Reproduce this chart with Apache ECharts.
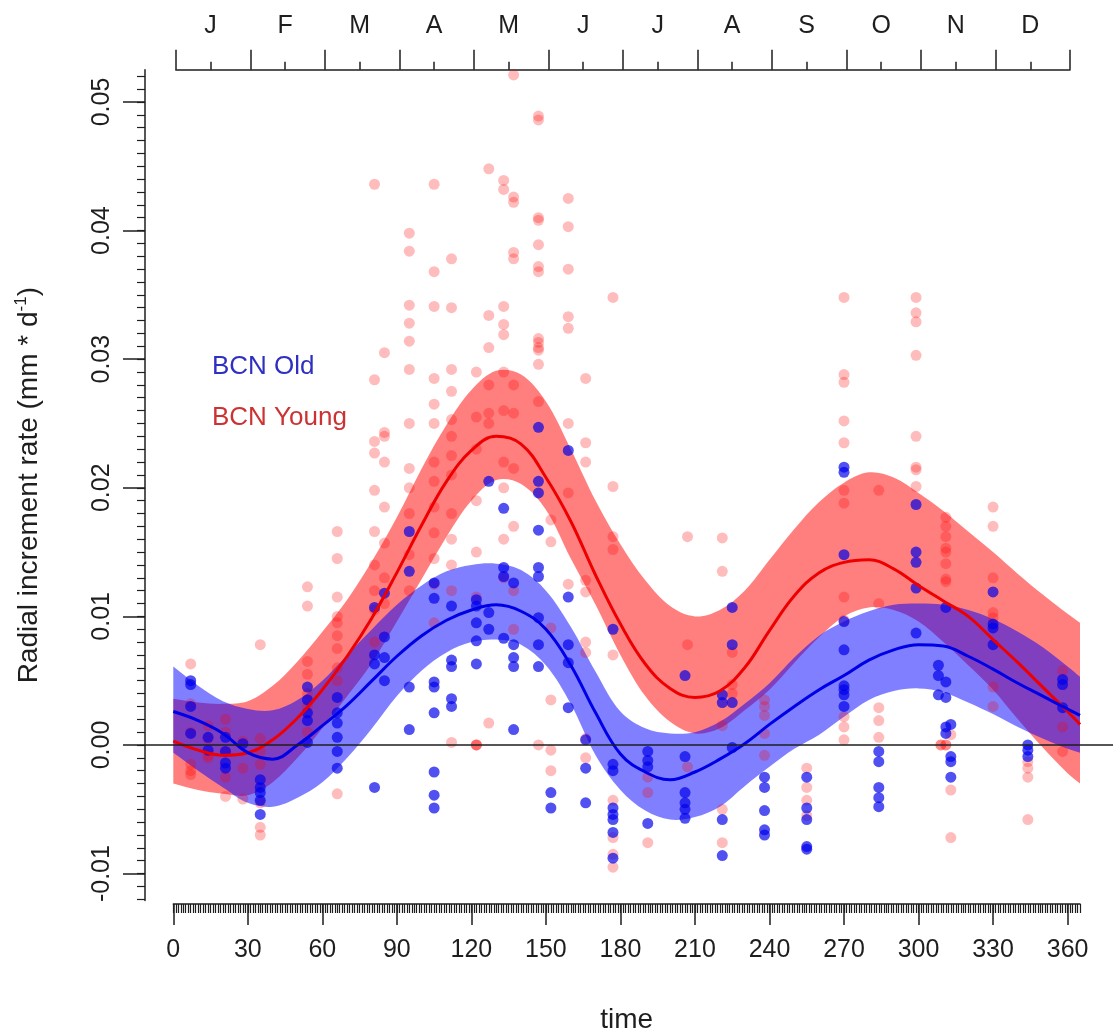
<!DOCTYPE html>
<html>
<head>
<meta charset="utf-8">
<script src="https://cdn.jsdelivr.net/npm/echarts@6/dist/echarts.min.js"></script>
<style>html,body{margin:0;padding:0;background:#fff}#c{width:1113px;height:1034px}</style>
</head>
<body>
<div id="c"></div>
<script>
// ---------- data ----------
const monthLabels = ['J','F','M','A','M','J','J','A','S','O','N','D'];
const monthEdges = [1,31,61,91,121,151,181,211,241,271,301,331,361];
const monthMids = [15,45,75,105,135,165,195,225,255,285,315,345];
const xTicks = [0,30,60,90,120,150,180,210,240,270,300,330,360];
const yTicks = [-0.01,0,0.01,0.02,0.03,0.04,0.05];

const curveDays = [0,10,20,30,40,50,60,70,80,90,100,110,120,130,140,150,160,170,180,190,200,210,220,230,240,250,260,270,280,290,300,310,320,330,340,350,360,365];
const youngFit = [0.0003,-0.0004,-0.0008,-0.0006,0.0004,0.0021,0.0043,0.0069,0.0099,0.0134,0.0171,0.0205,0.0229,0.0240,0.0234,0.0208,0.0174,0.0132,0.0094,0.0063,0.0044,0.0037,0.0042,0.0060,0.0089,0.0116,0.0134,0.0142,0.0144,0.0137,0.0124,0.0112,0.0100,0.0082,0.0064,0.0045,0.0026,0.0016];
const youngUpper = [0.0036,0.0033,0.0032,0.0034,0.0046,0.0065,0.0088,0.0113,0.0143,0.0177,0.0215,0.0249,0.0276,0.0291,0.0288,0.0267,0.0230,0.0190,0.0156,0.0128,0.0108,0.0100,0.0105,0.0120,0.0144,0.0168,0.0189,0.0204,0.0212,0.0208,0.0196,0.0182,0.0166,0.0150,0.0133,0.0117,0.0102,0.0095];
const youngLower = [-0.0030,-0.0035,-0.0038,-0.0039,-0.0029,-0.0010,0.0013,0.0038,0.0064,0.0096,0.0129,0.0162,0.0190,0.0206,0.0203,0.0183,0.0145,0.0109,0.0070,0.0038,0.0018,0.0009,0.0013,0.0027,0.0043,0.0064,0.0084,0.0100,0.0107,0.0105,0.0096,0.0080,0.0062,0.0043,0.0020,-0.0002,-0.0022,-0.0030];
const oldFit = [0.0026,0.0019,0.0009,-0.0006,-0.0011,0.0000,0.0015,0.0031,0.0050,0.0069,0.0085,0.0097,0.0105,0.0109,0.0104,0.0090,0.0062,0.0025,-0.0007,-0.0021,-0.0027,-0.0021,-0.0011,0.0001,0.0016,0.0030,0.0043,0.0054,0.0066,0.0074,0.0078,0.0077,0.0069,0.0059,0.0048,0.0038,0.0028,0.0023];
const oldUpper = [0.0061,0.0046,0.0034,0.0028,0.0027,0.0035,0.0050,0.0070,0.0090,0.0109,0.0124,0.0135,0.0140,0.0141,0.0136,0.0120,0.0092,0.0057,0.0026,0.0013,0.0009,0.0010,0.0018,0.0032,0.0048,0.0068,0.0085,0.0096,0.0104,0.0109,0.0110,0.0109,0.0105,0.0098,0.0088,0.0076,0.0061,0.0053];
const oldLower = [-0.0006,-0.0020,-0.0033,-0.0045,-0.0048,-0.0041,-0.0029,-0.0010,0.0013,0.0038,0.0058,0.0072,0.0080,0.0082,0.0078,0.0062,0.0032,-0.0008,-0.0035,-0.0051,-0.0058,-0.0056,-0.0048,-0.0032,-0.0017,-0.0003,0.0008,0.0022,0.0035,0.0042,0.0044,0.0041,0.0033,0.0024,0.0014,0.0005,-0.0003,-0.0006];

const youngPts = [
 [7,0.0063],[7,0.0032],[7,0.0010],[7,-0.0015],[7,-0.0020],[7,-0.0023],
 [14,0.0015],[14,0.0005],[14,-0.0008],[14,-0.0010],
 [21,0.0020],[21,0.0010],[21,-0.0005],[21,-0.0025],[21,-0.0040],
 [28,0.0003],[28,-0.0018],[28,-0.0042],
 [35,0.0078],[35,0.0005],[35,-0.0005],[35,-0.0015],[35,-0.0045],[35,-0.0064],[35,-0.0070],
 [54,0.0123],[54,0.0108],[54,0.0065],[54,0.0055],[54,0.0040],[54,0.0030],[54,0.0010],
 [66,0.0166],[66,0.0145],[66,0.0115],[66,0.0100],[66,0.0095],[66,0.0085],[66,0.0075],[66,0.0060],[66,0.0050],[66,-0.0038],
 [81,0.0436],[81,0.0284],[81,0.0236],[81,0.0227],[81,0.0198],[81,0.0166],[81,0.0140],[81,0.0120],[81,0.0105],[81,0.0080],
 [85,0.0305],[85,0.0243],[85,0.0240],[85,0.0220],[85,0.0185],[85,0.0157],[85,0.0130],[85,0.0110],
 [95,0.0398],[95,0.0384],[95,0.0342],[95,0.0328],[95,0.0314],[95,0.0292],[95,0.0250],[95,0.0215],[95,0.0200],[95,0.0180],[95,0.0148],[95,0.0120],
 [105,0.0436],[105,0.0368],[105,0.0341],[105,0.0285],[105,0.0265],[105,0.0250],[105,0.0220],[105,0.0205],[105,0.0185],[105,0.0165],[105,0.0145],[105,0.0125],[105,0.0095],
 [112,0.0378],[112,0.0340],[112,0.0292],[112,0.0275],[112,0.0253],[112,0.0240],[112,0.0225],[112,0.0210],[112,0.0180],[112,0.0160],[112,0.0140],[112,0.0120],[112,0.0002],
 [122,0.0290],[122,0.0255],[122,0.0230],[122,0.0190],[122,0.0150],[122,0.0115],[122,0.0000],[122,0.0000],[122,0.0000],
 [127,0.0448],[127,0.0334],[127,0.0309],[127,0.0280],[127,0.0258],[127,0.0250],[127,0.0017],
 [133,0.0439],[133,0.0432],[133,0.0341],[133,0.0327],[133,0.0319],[133,0.0290],[133,0.0260],[133,0.0220],[133,0.0200],[133,0.0160],[133,0.0130],
 [137,0.0521],[137,0.0426],[137,0.0422],[137,0.0383],[137,0.0378],[137,0.0280],[137,0.0258],[137,0.0215],[137,0.0170],[137,0.0120],[137,0.0090],
 [147,0.0489],[147,0.0486],[147,0.0410],[147,0.0408],[147,0.0389],[147,0.0372],[147,0.0368],[147,0.0316],[147,0.0313],[147,0.0309],[147,0.0307],[147,0.0296],[147,0.0267],[147,0.0000],
 [152,0.0175],[152,0.0158],[152,0.0091],[152,0.0035],[152,-0.0004],[152,-0.0020],
 [159,0.0425],[159,0.0403],[159,0.0370],[159,0.0333],[159,0.0324],[159,0.0250],[159,0.0196],[159,0.0125],
 [166,0.0285],[166,0.0235],[166,0.0220],[166,0.0128],[166,0.0119],[166,0.0080],[166,0.0072],[166,0.0005],[166,-0.0010],
 [177,0.0348],[177,0.0201],[177,0.0162],[177,0.0152],[177,0.0070],[177,-0.0043],[177,-0.0072],[177,-0.0085],[177,-0.0095],
 [191,-0.0025],[191,-0.0037],[191,-0.0076],
 [207,0.0162],[207,0.0078],[207,-0.0017],
 [221,0.0161],[221,0.0135],[221,0.0015],[221,-0.0050],[221,-0.0076],
 [225,0.0072],[225,0.0047],[225,0.0040],
 [238,0.0035],[238,0.0030],[238,0.0023],[238,0.0009],[238,-0.0008],
 [255,-0.0018],[255,-0.0033],[255,-0.0043],[255,-0.0055],
 [270,0.0348],[270,0.0288],[270,0.0282],[270,0.0252],[270,0.0235],[270,0.0198],[270,0.0188],[270,0.0115],[270,0.0097],[270,0.0022],[270,0.0014],[270,0.0004],
 [284,0.0198],[284,0.0110],[284,0.0029],[284,0.0019],[284,0.0006],
 [299,0.0348],[299,0.0336],[299,0.0329],[299,0.0303],[299,0.0240],[299,0.0216],[299,0.0214],[299,0.0201],
 [311,0.0177],[311,0.0170],[311,0.0162],[311,0.0153],[311,0.0150],[311,0.0141],[311,0.0129],[311,0.0127],[309,0.0000],[309,0.0000],[311,0.0000],[311,0.0000],[313,0.0008],[313,-0.0035],[313,-0.0072],
 [330,0.0185],[330,0.0170],[330,0.0130],[330,0.0103],[330,0.0099],[330,0.0045],[330,0.0030],
 [344,-0.0013],[344,-0.0018],[344,-0.0025],[344,-0.0058],
 [358,0.0058],[358,0.0014],[358,-0.0005]
];
const oldPts = [
 [7,0.0050],[7,0.0047],[7,0.0030],[7,0.0009],
 [14,0.0006],[14,-0.0004],
 [21,0.0006],[21,-0.0005],[21,-0.0014],[21,-0.0018],
 [28,0.0001],
 [35,-0.0027],[35,-0.0033],[35,-0.0037],[35,-0.0043],[35,-0.0054],
 [54,0.0045],[54,0.0035],[54,0.0025],[54,0.0019],[54,0.0002],
 [66,0.0037],[66,0.0025],[66,0.0017],[66,0.0006],[66,-0.0005],[66,-0.0018],
 [81,0.0107],[81,0.0070],[81,0.0063],[81,-0.0033],
 [85,0.0118],[85,0.0084],[85,0.0068],[85,0.0050],
 [95,0.0166],[95,0.0135],[95,0.0045],[95,0.0012],
 [105,0.0126],[105,0.0114],[105,0.0049],[105,0.0045],[105,0.0025],[105,-0.0021],[105,-0.0039],[105,-0.0049],
 [112,0.0108],[112,0.0066],[112,0.0061],[112,0.0036],[112,0.0030],
 [122,0.0113],[122,0.0108],[122,0.0095],[122,0.0081],[122,0.0063],
 [127,0.0205],[127,0.0103],[127,0.0090],
 [133,0.0184],[133,0.0138],[133,0.0131],[133,0.0083],
 [137,0.0126],[137,0.0078],[137,0.0068],[137,0.0061],[137,0.0012],
 [147,0.0247],[147,0.0205],[147,0.0196],[147,0.0167],[147,0.0138],[147,0.0131],[147,0.0099],[147,0.0078],[147,0.0061],
 [152,-0.0037],[152,-0.0049],
 [159,0.0229],[159,0.0115],[159,0.0078],[159,0.0064],[159,0.0029],
 [166,0.0004],[166,-0.0018],[166,-0.0045],
 [177,0.0090],[177,-0.0015],[177,-0.0020],[177,-0.0049],[177,-0.0054],[177,-0.0058],[177,-0.0068],[177,-0.0088],
 [191,-0.0005],[191,-0.0012],[191,-0.0017],[191,-0.0061],
 [206,0.0054],[206,-0.0009],[206,-0.0037],[206,-0.0045],[206,-0.0050],[206,-0.0057],
 [221,0.0039],[221,0.0033],[221,-0.0058],[221,-0.0086],
 [225,0.0107],[225,0.0078],[225,0.0033],[225,-0.0002],
 [238,-0.0025],[238,-0.0033],[238,-0.0051],[238,-0.0066],[238,-0.0070],
 [255,-0.0025],[255,-0.0049],[255,-0.0058],[255,-0.0079],[255,-0.0081],
 [270,0.0216],[270,0.0212],[270,0.0148],[270,0.0096],[270,0.0074],[270,0.0046],[270,0.0043],[270,0.0039],[270,0.0030],
 [284,-0.0005],[284,-0.0013],[284,-0.0033],[284,-0.0041],[284,-0.0048],
 [299,0.0187],[299,0.0150],[299,0.0142],[299,0.0122],[299,0.0087],
 [311,0.0107],[308,0.0062],[308,0.0054],[311,0.0049],[308,0.0039],[311,0.0037],[311,0.0014],[313,0.0016],[311,0.0009],[313,-0.0009],[313,-0.0013],[313,-0.0025],
 [330,0.0119],[330,0.0094],[330,0.0091],[330,0.0078],
 [344,0.0000],[344,-0.0004],[344,-0.0009],
 [358,0.0051],[358,0.0047],[358,0.0029]
];

// ---------- chart ----------
const FONT = 'Liberation Sans, Arial, sans-serif';
const INK = '#1e1e1e';
const Y_MIN = -0.0121, Y_MAX = 0.0525;
const SMOOTH = 0.4;
const yMinor = [];
for (let i = -12; i <= 52; i++) yMinor.push(i / 1000);

// confidence band drawn as a smoothed polygon through the axis scales
function band(upper, lower, fill) {
  return {
    type: 'custom', xAxisIndex: 0, yAxisIndex: 0, silent: true,
    data: [[0, 0]],
    renderItem: function (params, api) {
      const n = curveDays.length;
      const pts = [];
      for (let i = 0; i < n; i++) {
        const p = api.coord([curveDays[i], upper[i]]);
        pts.push(p);
        if (i === 0 || i === n - 1) pts.push(p.slice()); // keep corners sharp
      }
      for (let i = n - 1; i >= 0; i--) {
        const p = api.coord([curveDays[i], lower[i]]);
        pts.push(p);
        if (i === 0 || i === n - 1) pts.push(p.slice());
      }
      return { type: 'polygon', shape: { points: pts, smooth: 0.35 }, style: { fill: fill, stroke: null } };
    }
  };
}
function fitLine(vals, color) {
  return {
    type: 'line', xAxisIndex: 0, yAxisIndex: 0, silent: true,
    data: curveDays.map((d, i) => [d, vals[i]]),
    smooth: SMOOTH, showSymbol: false, symbol: 'none',
    lineStyle: { color: color, width: 3 }
  };
}

const chart = echarts.init(document.getElementById('c'), null, { renderer: 'canvas' });
const axisLineStyle = { color: INK, width: 1.5 };
chart.setOption({
  animation: false,
  backgroundColor: '#fff',
  textStyle: { fontFamily: FONT },
  grid: [
    { left: 173.3, top: 69.8, width: 906.7, height: 830.8, outerBoundsMode: 'none' },
    { left: 175.8, top: 69.8, width: 894.2, height: 830.8, outerBoundsMode: 'none' },
    { left: 145, top: 69.8, width: 968, height: 830.8, outerBoundsMode: 'none' }
  ],
  legend: {
    orient: 'vertical', left: 202, top: 346, icon: 'none', itemWidth: 0, itemHeight: 0, itemGap: 20,
    selectedMode: false,
    textStyle: { fontSize: 26, fontFamily: FONT, lineHeight: 31 },
    data: [
      { name: 'BCN Old', textStyle: { color: '#2f2fc2' } },
      { name: 'BCN Young', textStyle: { color: '#cc3232' } }
    ]
  },
  xAxis: [
    { gridIndex: 0, type: 'value', min: 0, max: 365, position: 'bottom', offset: 3.4,
      axisLine: { show: true, onZero: false, lineStyle: axisLineStyle },
      axisTick: { show: true, length: 21, customValues: xTicks, lineStyle: axisLineStyle },
      axisLabel: { show: true, customValues: xTicks, margin: 34, fontSize: 25, color: INK, fontFamily: FONT },
      splitLine: { show: false },
      name: 'time', nameLocation: 'middle', nameGap: 102,
      nameTextStyle: { fontSize: 28, color: INK, fontFamily: FONT } },
    { gridIndex: 0, type: 'value', min: 0, max: 365, interval: 1, position: 'bottom', offset: 3.4,
      axisLine: { show: false, onZero: false },
      axisTick: { show: true, length: 9, lineStyle: { color: INK, width: 1.2 } },
      axisLabel: { show: false }, splitLine: { show: false } },
    { gridIndex: 1, type: 'value', min: 1, max: 361, position: 'top',
      axisLine: { show: true, onZero: false, lineStyle: axisLineStyle },
      axisTick: { show: true, length: 20, customValues: monthEdges, lineStyle: axisLineStyle },
      axisLabel: { show: false }, splitLine: { show: false } },
    { gridIndex: 1, type: 'value', min: 1, max: 361, position: 'top',
      axisLine: { show: false, onZero: false },
      axisTick: { show: true, length: 8, customValues: monthMids, lineStyle: axisLineStyle },
      axisLabel: { show: true, customValues: monthMids, margin: 31, fontSize: 25, color: INK, fontFamily: FONT,
        formatter: v => monthLabels[Math.round((v - 15) / 30)] },
      splitLine: { show: false } },
    { gridIndex: 2, type: 'value', min: 0, max: 1, show: false }
  ],
  yAxis: [
    { gridIndex: 0, type: 'value', min: Y_MIN, max: Y_MAX, position: 'left', offset: 28.3,
      axisLine: { show: true, onZero: false, lineStyle: axisLineStyle },
      axisTick: { show: true, length: 22, customValues: yTicks, lineStyle: axisLineStyle },
      axisLabel: { show: true, customValues: yTicks, rotate: 90, margin: 30, fontSize: 25, color: INK, fontFamily: FONT,
        formatter: v => v.toFixed(2) },
      splitLine: { show: false },
      name: 'Radial increment rate (mm * d{sup|-1})', nameLocation: 'middle', nameRotate: 90, nameGap: 100,
      nameTextStyle: { fontSize: 28, color: INK, fontFamily: FONT, lineHeight: 32,
        rich: { sup: { fontSize: 17, color: INK, fontFamily: FONT, verticalAlign: 'top', lineHeight: 32, padding: [0, 0, 12, 0] } } } },
    { gridIndex: 0, type: 'value', min: Y_MIN, max: Y_MAX, position: 'left', offset: 28.3,
      axisLine: { show: false, onZero: false },
      axisTick: { show: true, length: 8, customValues: yMinor, lineStyle: { color: INK, width: 1.2 } },
      axisLabel: { show: false }, splitLine: { show: false } },
    { gridIndex: 1, type: 'value', min: Y_MIN, max: Y_MAX, show: false },
    { gridIndex: 2, type: 'value', min: Y_MIN, max: Y_MAX, show: false }
  ],
  series: [
    band(youngUpper, youngLower, 'rgba(255,0,0,0.5)'),
    fitLine(youngFit, '#ee0000'),
    { name: 'BCN Young', type: 'scatter', xAxisIndex: 0, yAxisIndex: 0, data: youngPts,
      symbol: 'circle', symbolSize: 11, itemStyle: { color: 'rgba(255,0,0,0.33)' } },
    band(oldUpper, oldLower, 'rgba(0,0,255,0.5)'),
    fitLine(oldFit, '#0000e6'),
    { name: 'BCN Old', type: 'scatter', xAxisIndex: 0, yAxisIndex: 0, data: oldPts,
      symbol: 'circle', symbolSize: 11, itemStyle: { color: 'rgba(0,0,235,0.85)' } },
    { type: 'line', xAxisIndex: 4, yAxisIndex: 3, silent: true, data: [[0, 0], [1, 0]],
      showSymbol: false, symbol: 'none', lineStyle: { color: INK, width: 1.5 } }
  ]
});
</script>
</body>
</html>
